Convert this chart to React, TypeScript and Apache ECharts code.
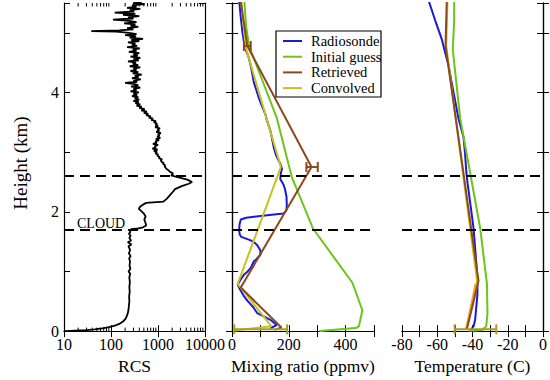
import React, { useEffect, useRef } from 'react';
import * as echarts from 'echarts';

// ---------- data ----------
const heightMin = 0;
const heightMax = 5.5;
const cloudTop = 2.6;
const cloudBase = 1.7;

// RCS profile: [RCS, height km]
const rcsProfile: [number, number][] = [
  [10, 0.0], [14, 0.005], [20, 0.01], [30, 0.018], [45, 0.03], [65, 0.045], [90, 0.065], [120, 0.09],
  [150, 0.12], [180, 0.16], [205, 0.21], [222, 0.27], [234, 0.34], [240, 0.42], [246, 0.5], [243, 0.58],
  [250, 0.66], [246, 0.74], [252, 0.82], [245, 0.9], [256, 0.96], [236, 1.0], [258, 1.04], [248, 1.1],
  [254, 1.16], [244, 1.22], [262, 1.26], [240, 1.3], [255, 1.36], [235, 1.42], [272, 1.45], [228, 1.49],
  [268, 1.52], [245, 1.56], [262, 1.6], [240, 1.63], [258, 1.66], [250, 1.69], [275, 1.71], [380, 1.72],
  [480, 1.74], [560, 1.77], [540, 1.82], [510, 1.87], [545, 1.92], [500, 1.97], [430, 2.02], [390, 2.05],
  [420, 2.09], [480, 2.12], [560, 2.15], [1300, 2.17], [1550, 2.22], [1800, 2.28], [2100, 2.34], [2300, 2.38],
  [3200, 2.43], [4500, 2.47], [5300, 2.5], [4200, 2.54], [2600, 2.58], [1900, 2.61], [2100, 2.64], [1800, 2.67],
  [1650, 2.70], [1500, 2.72], [1450, 2.74], [1380, 2.76], [1420, 2.78], [1280, 2.80], [1320, 2.82], [1180, 2.84],
  [1150, 2.86], [1220, 2.88], [1040, 2.90], [1080, 2.92], [960, 2.94], [1010, 2.96], [880, 2.98], [950, 3.00],
  [820, 3.02], [980, 3.04], [760, 3.06], [900, 3.08], [850, 3.10], [1000, 3.12], [780, 3.14], [940, 3.16],
  [880, 3.18], [1050, 3.20], [900, 3.22], [1120, 3.24], [960, 3.26], [1080, 3.28], [1000, 3.30], [1150, 3.32],
  [920, 3.34], [1060, 3.36], [980, 3.38], [1100, 3.40], [870, 3.42], [1000, 3.44], [880, 3.46], [960, 3.48],
  [820, 3.50], [900, 3.52], [720, 3.54], [780, 3.56], [640, 3.58], [700, 3.60], [560, 3.62], [620, 3.64],
  [500, 3.66], [580, 3.68], [440, 3.70], [520, 3.72], [400, 3.74], [450, 3.76], [350, 3.78], [420, 3.80],
  [330, 3.82], [390, 3.84], [300, 3.86], [400, 3.88], [320, 3.90], [380, 3.92], [280, 3.94], [360, 3.96],
  [300, 3.98], [390, 4.00], [260, 4.02], [350, 4.04], [300, 4.06], [420, 4.08], [270, 4.10], [380, 4.12],
  [320, 4.14], [200, 4.16], [360, 4.18], [300, 4.20], [430, 4.22], [280, 4.24], [390, 4.26], [320, 4.28],
  [450, 4.30], [290, 4.32], [380, 4.34], [260, 4.36], [350, 4.38], [300, 4.40], [420, 4.42], [250, 4.44],
  [380, 4.46], [290, 4.48], [340, 4.50], [230, 4.52], [390, 4.54], [300, 4.56], [420, 4.58], [260, 4.60],
  [370, 4.62], [300, 4.64], [400, 4.66], [240, 4.68], [350, 4.70], [290, 4.72], [410, 4.74], [220, 4.76],
  [360, 4.78], [280, 4.80], [330, 4.82], [230, 4.84], [400, 4.86], [270, 4.88], [480, 4.90], [250, 4.92],
  [340, 4.94], [200, 4.96], [350, 4.98], [240, 5.00], [130, 5.02], [38, 5.03], [150, 5.04], [300, 5.06],
  [220, 5.08], [380, 5.10], [260, 5.12], [330, 5.14], [190, 5.16], [350, 5.18], [240, 5.20], [110, 5.22],
  [300, 5.24], [230, 5.26], [400, 5.28], [180, 5.30], [330, 5.32], [120, 5.34], [310, 5.36], [250, 5.38],
  [420, 5.40], [220, 5.42], [350, 5.44], [280, 5.46], [520, 5.48], [300, 5.50], [450, 5.52], [260, 5.54],
  [380, 5.55],
];
const rcsMinorTicks = [20, 30, 40, 50, 60, 70, 80, 90, 200, 300, 400, 500, 600, 700, 800, 900, 2000, 3000, 4000, 5000, 6000, 7000, 8000, 9000];

// Mixing ratio profiles: [ppmv, height km]
const mixRadiosonde: [number, number][] = [
  [25, 5.55], [30, 5.3], [37, 5.0], [42, 4.85], [48, 4.72], [58, 4.6], [66, 4.45], [72, 4.3], [77, 4.17],
  [85, 4.05], [95, 3.9], [105, 3.78], [118, 3.63], [122, 3.55], [135, 3.36], [140, 3.25], [147, 3.08],
  [155, 2.95], [165, 2.85], [170, 2.81], [176, 2.72], [172, 2.65], [170, 2.55], [182, 2.45], [187, 2.37],
  [192, 2.25], [193, 2.1], [191, 2.02], [181, 1.97], [140, 1.95], [100, 1.93], [50, 1.9], [31, 1.87],
  [27, 1.8], [25, 1.7], [27, 1.62], [33, 1.58], [66, 1.52], [80, 1.48], [89, 1.44], [100, 1.35], [100, 1.28],
  [85, 1.2], [77, 1.17], [66, 1.06], [55, 1.0], [43, 0.95], [30, 0.86], [20, 0.78], [28, 0.7], [40, 0.6],
  [54, 0.51], [75, 0.4], [89, 0.3], [115, 0.24], [135, 0.19], [153, 0.12], [158, 0.1], [140, 0.06], [135, 0.05],
];
const mixInitial: [number, number][] = [
  [43, 5.55], [50, 5.1], [60, 4.78], [158, 3.57], [210, 2.59], [285, 1.72], [424, 0.81], [459, 0.35],
  [447, 0.08], [436, 0.05], [308, 0.0],
];
const mixRetrieved: [number, number][] = [
  [30, 5.55], [54, 4.78], [280, 2.75], [31, 0.73], [174, 0.06], [150, 0.02],
];
const mixConvolved: [number, number][] = [
  [32, 5.55], [48, 4.76], [172, 2.75], [20, 0.79], [139, 0.08], [8, 0.01],
];
// [center, height, half-width]
const mixErrRetrieved: [number, number, number][] = [[54, 4.78, 12], [282, 2.75, 20]];
const mixErrSurface: [number, number, number][] = [[101, 0.03, 93]];

// Temperature profiles: [degC, height km]
const tempRadiosonde: [number, number][] = [
  [-65, 5.55], [-61.2, 5.21], [-57.4, 4.89], [-53.6, 4.45], [-50.8, 4.01], [-48, 3.57], [-45.1, 3.25],
  [-44.2, 2.97], [-43.6, 2.7], [-42.8, 2.48], [-41.3, 2.15], [-39.4, 1.72], [-37.9, 1.17], [-37.2, 0.84],
  [-37.2, 0.62], [-38.5, 0.19], [-39.4, 0.08], [-41, 0.02],
];
const tempInitial: [number, number][] = [
  [-50.4, 5.55], [-50.4, 5.2], [-51.2, 4.72], [-47, 3.57], [-42.3, 2.81], [-35.6, 1.72], [-31.8, 0.79],
  [-31.5, 0.3], [-32.2, 0.08], [-34.5, 0.02], [-42, 0.005],
];
const tempRetrieved: [number, number][] = [
  [-54.6, 5.55], [-55.3, 4.78], [-45.6, 2.75], [-36.6, 0.84], [-43.2, 0.03],
];
const tempConvolved: [number, number][] = [
  [-54.2, 5.55], [-54.9, 4.78], [-45.9, 2.75], [-37.4, 0.84], [-43.6, 0.04],
];
const tempConvolvedLow: [number, number][] = [[-38.3, 0.79], [-43.5, 0.03]];
const tempErrSurface: [number, number, number][] = [[-38.3, 0.03, 11.8]];

const COL = {
  radiosonde: '#1a1ad6',
  initial: '#6cc41c',
  retrieved: '#8b4a1e',
  convolved: '#c6c21e',
  orange: '#f0a024',
  errSurface: '#a89c24',
};
const legendItems = [
  { name: 'Radiosonde', color: COL.radiosonde },
  { name: 'Initial guess', color: COL.initial },
  { name: 'Retrieved', color: COL.retrieved },
  { name: 'Convolved', color: COL.convolved },
];

const FONT = 'Liberation Serif';

export default function App() {
  const ref = useRef<HTMLDivElement>(null);
  useEffect(() => {
    if (!ref.current) return;
    const chart = echarts.init(ref.current, null, { renderer: 'svg' });

    const grids = [
      { left: 64, top: 3, width: 141, height: 335 },
      { left: 232, top: 3, width: 142, height: 335 },
      { left: 402, top: 3, width: 141, height: 335 },
    ];
    const axisLine = { show: true, lineStyle: { color: '#000', width: 1.2 } };
    const tick = { show: true, inside: true, length: 6, lineStyle: { color: '#000', width: 1 } };
    const lbl = { color: '#000', fontFamily: FONT, fontSize: 16, margin: 5 };
    const nameStyle = { color: '#000', fontFamily: FONT, fontSize: 17.5 };

    const yAxes: any[] = [];
    grids.forEach((_, gi) => {
      yAxes.push({
        type: 'value', gridIndex: gi, position: 'left', min: heightMin, max: heightMax, interval: 1,
        axisLine, axisTick: tick, splitLine: { show: false },
        axisLabel: gi === 0 ? { ...lbl, formatter: (v: number) => (v % 2 === 0 && v <= 4 ? String(v) : '') } : { show: false },
      });
      yAxes.push({
        type: 'value', gridIndex: gi, position: 'right', min: heightMin, max: heightMax, interval: 1,
        axisLine, axisTick: tick, splitLine: { show: false }, axisLabel: { show: false },
      });
    });

    const xAxes: any[] = [
      {
        type: 'log', gridIndex: 0, position: 'bottom', min: 10, max: 10000, logBase: 10,
        axisLine, axisTick: tick, splitLine: { show: false },
        axisLabel: { ...lbl, formatter: (v: number) => String(Math.round(v)) },
        name: 'RCS', nameLocation: 'middle', nameGap: 19, nameTextStyle: nameStyle,
      },
      {
        type: 'log', gridIndex: 0, position: 'top', min: 10, max: 10000, logBase: 10,
        axisLine, axisTick: tick, splitLine: { show: false }, axisLabel: { show: false },
      },
      {
        type: 'value', gridIndex: 1, position: 'bottom', min: 0, max: 500, interval: 100,
        axisLine, axisTick: tick, splitLine: { show: false },
        axisLabel: { ...lbl, formatter: (v: number) => (v % 200 === 0 ? String(v) : '') },
        name: 'Mixing ratio (ppmv)', nameLocation: 'middle', nameGap: 19, nameTextStyle: nameStyle,
      },
      {
        type: 'value', gridIndex: 1, position: 'top', min: 0, max: 500, interval: 100,
        axisLine, axisTick: tick, splitLine: { show: false }, axisLabel: { show: false },
      },
      {
        type: 'value', gridIndex: 2, position: 'bottom', min: -80, max: 0, interval: 10,
        axisLine, axisTick: tick, splitLine: { show: false },
        axisLabel: { ...lbl, formatter: (v: number) => (v % 20 === 0 ? String(v) : '') },
        name: 'Temperature (C)', nameLocation: 'middle', nameGap: 19, nameTextStyle: nameStyle,
      },
      {
        type: 'value', gridIndex: 2, position: 'top', min: -80, max: 0, interval: 10,
        axisLine, axisTick: tick, splitLine: { show: false }, axisLabel: { show: false },
      },
    ];

    const dashed = {
      silent: true, symbol: 'none', label: { show: false }, z: 10,
      lineStyle: { color: '#000', width: 2, type: [10, 6] },
      emphasis: { disabled: true },
      data: [{ yAxis: cloudTop }, { yAxis: cloudBase }],
    };

    const line = (name: string, data: [number, number][], color: string, xi: number, yi: number, width = 2, extra: any = {}) => ({
      type: 'line', name, data, xAxisIndex: xi, yAxisIndex: yi, symbol: 'none', showSymbol: false,
      lineStyle: { color, width }, itemStyle: { color }, clip: true, silent: true, ...extra,
    });

    const errSeries = (data: [number, number, number][], color: string, xi: number, yi: number) => ({
      type: 'custom', xAxisIndex: xi, yAxisIndex: yi, data, silent: true, z: 5,
      encode: { x: 0, y: 1 },
      renderItem: (_p: any, api: any) => {
        const c = api.value(0), h = api.value(1), e = api.value(2);
        const l = api.coord([c - e, h]);
        const r = api.coord([c + e, h]);
        const st = { stroke: color, lineWidth: 2 };
        return {
          type: 'group',
          children: [
            { type: 'line', shape: { x1: l[0], y1: l[1], x2: r[0], y2: r[1] }, style: st },
            { type: 'line', shape: { x1: l[0], y1: l[1] - 5, x2: l[0], y2: l[1] + 5 }, style: st },
            { type: 'line', shape: { x1: r[0], y1: r[1] - 5, x2: r[0], y2: r[1] + 5 }, style: st },
          ],
        };
      },
    });

    const logMinor = {
      type: 'custom', xAxisIndex: 0, yAxisIndex: 0, silent: true, z: 6,
      data: rcsMinorTicks.map((v) => [v, heightMin]),
      encode: { x: 0, y: 1 },
      renderItem: (_p: any, api: any) => {
        const v = api.value(0);
        const b = api.coord([v, heightMin]);
        const t = api.coord([v, heightMax]);
        const st = { stroke: '#000', lineWidth: 1 };
        return {
          type: 'group',
          children: [
            { type: 'line', shape: { x1: b[0], y1: b[1], x2: b[0], y2: b[1] - 3.5 }, style: st },
            { type: 'line', shape: { x1: t[0], y1: t[1], x2: t[0], y2: t[1] + 3.5 }, style: st },
          ],
        };
      },
    };

    const series: any[] = [
      line('RCS', rcsProfile, '#000', 0, 0, 1.8, { markLine: dashed }),
      logMinor,
      line('Radiosonde', mixRadiosonde, COL.radiosonde, 2, 2, 2, { markLine: dashed }),
      line('Initial guess', mixInitial, COL.initial, 2, 2),
      line('Convolved', mixConvolved, COL.convolved, 2, 2),
      line('Retrieved', mixRetrieved, COL.retrieved, 2, 2),
      errSeries(mixErrRetrieved, COL.retrieved, 2, 2),
      errSeries(mixErrSurface, COL.errSurface, 2, 2),
      line('Radiosonde', tempRadiosonde, COL.radiosonde, 4, 4, 2, { markLine: dashed }),
      line('Initial guess', tempInitial, COL.initial, 4, 4),
      line('Convolved', tempConvolved, COL.convolved, 4, 4),
      line('Convolved low', tempConvolvedLow, COL.orange, 4, 4),
      line('Retrieved', tempRetrieved, COL.retrieved, 4, 4),
      errSeries(tempErrSurface, COL.errSurface, 4, 4),
    ];

    const legendTop = 41;
    const legendStep = 15.7;
    const graphic: any[] = [
      {
        type: 'text', x: 20, y: 163, rotation: Math.PI / 2, z: 100,
        style: { text: 'Height (km)', fill: '#000', fontFamily: FONT, fontSize: 19, align: 'center', verticalAlign: 'middle' },
      },
      {
        type: 'text', x: 77, y: 223, z: 100,
        style: { text: 'CLOUD', fill: '#000', fontFamily: FONT, fontSize: 14, align: 'left', verticalAlign: 'middle' },
      },
      {
        type: 'rect', shape: { x: 276, y: 31, width: 105, height: 66 }, z: 100,
        style: { fill: '#fff', stroke: '#000', lineWidth: 1.2 },
      },
      ...legendItems.map((it, i) => ({
        type: 'line', z: 101,
        shape: { x1: 283, y1: legendTop + i * legendStep, x2: 302, y2: legendTop + i * legendStep },
        style: { stroke: it.color, lineWidth: 2 },
      })),
      ...legendItems.map((it, i) => ({
        type: 'text', z: 101, x: 311, y: legendTop + i * legendStep,
        style: { text: it.name, fill: '#000', fontFamily: FONT, fontSize: 14.5, align: 'left', verticalAlign: 'middle' },
      })),
    ];

    chart.setOption({
      animation: false,
      backgroundColor: '#fff',
      textStyle: { fontFamily: FONT },
      grid: grids.map((g) => ({ ...g, containLabel: false })),
      xAxis: xAxes,
      yAxis: yAxes,
      series,
      graphic,
    });
    return () => chart.dispose();
  }, []);

  return <div ref={ref} style={{ position: 'fixed', left: 0, top: 0, width: 550, height: 380, background: '#fff' }} />;
}
